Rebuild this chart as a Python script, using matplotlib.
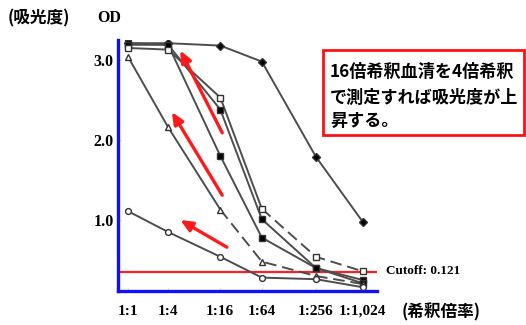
import matplotlib
matplotlib.use("Agg")
import matplotlib.pyplot as plt
from matplotlib.patches import Rectangle

plt.rcParams['font.family'] = ['Liberation Serif', 'Noto Sans CJK JP', 'DejaVu Sans']

# ---- data ----
dilutions = ["1:1", "1:4", "1:16", "1:64", "1:256", "1:1,024"]
x_pos = [0.0, 0.86, 1.98, 2.87, 4.03, 5.03]   # category positions as drawn

od_a = [3.21, 3.21, 3.18, 2.98, 1.79, 0.98]   # black diamonds
od_b = [3.21, 3.19, 2.38, 1.01, 0.40, 0.25]   # black squares
od_c = [3.19, 3.19, 1.80, 0.78, 0.40, 0.21]   # black squares
od_d = [3.15, 3.13, 2.53, 1.14, 0.54, 0.36]   # open squares
od_e = [3.04, 2.16, 1.13, 0.48, 0.30, 0.20]   # open triangles
od_f = [1.11, 0.85, 0.54, 0.28, 0.26, 0.16]   # open circles

y_ticks = [1.0, 2.0, 3.0]
cutoff_label = "Cutoff: 0.121"
cutoff_drawn = 0.35

W, H = 526, 325
fig = plt.figure(figsize=(W / 100, H / 100), dpi=100)
ax = fig.add_axes([118 / W, 1 - 291 / H, (377 - 118) / W, (291 - 40) / H])
ax.set_xlim(-0.215, 5.34)
ax.set_ylim(0.1125, 3.25)

lc = '#4d4d4d'
lw = 1.4

def series(y, marker, face, ms=4.2, dashed_from=None):
    if dashed_from is None:
        ax.plot(x_pos, y, color=lc, lw=lw, zorder=3)
    else:
        ax.plot(x_pos[:dashed_from + 1], y[:dashed_from + 1], color=lc, lw=lw, zorder=3)
        ax.plot(x_pos[dashed_from:], y[dashed_from:], color=lc, lw=lw, zorder=3,
                dashes=(6, 3))
    ax.plot(x_pos, y, ls='none', marker=marker, ms=ms, mfc=face, mec='#333333',
            mew=1.0, zorder=4)

series(od_a, 'D', 'black', ms=3.6)
series(od_b, 's', 'black')
series(od_c, 's', 'black')
series(od_d, 's', 'white', dashed_from=3)
series(od_e, '^', 'white', dashed_from=2)
series(od_f, 'o', 'white')

# cutoff line
ax.axhline(cutoff_drawn, color='#ff2020', lw=1.6, zorder=2)

# red arrows
for tail, head in [((2.02, 2.09), (1.12, 3.12)),
                   ((2.02, 1.31), (0.94, 2.35)),
                   ((2.12, 0.66), (1.12, 1.00))]:
    ax.annotate('', xy=head, xytext=tail,
                arrowprops=dict(arrowstyle='-|>,head_length=0.5,head_width=0.22',
                                color='#ff1a1a', lw=2.4,
                                mutation_scale=14, shrinkA=0, shrinkB=0),
                zorder=5)

# spines
for s in ['top', 'right']:
    ax.spines[s].set_visible(False)
for s in ['left', 'bottom']:
    ax.spines[s].set_color('#1010ff')
    ax.spines[s].set_linewidth(2.4)

ax.set_yticks(y_ticks)
ax.set_yticklabels([f"{v:.1f}" for v in y_ticks], fontsize=11.5, fontweight='bold')
ax.tick_params(axis='y', direction='in', length=2, color='#e8e840', pad=3)
ax.set_xticks(x_pos)
ax.set_xticklabels(dilutions, fontsize=11, fontweight='bold')
ax.tick_params(axis='x', direction='in', length=2, color='#e8e840', pad=10)

def fx(x):
    return x / W

def fy(y):
    return 1 - y / H

cjk = ['Noto Sans CJK JP', 'DejaVu Sans']
fig.text(fx(8), fy(18), "(吸光度)", family=cjk, fontsize=12, fontweight='bold',
         va='center', ha='left')
fig.text(fx(97), fy(18), "OD", fontsize=11.5, fontweight='bold', va='center', ha='left')
fig.text(fx(402), fy(312), "(希釈倍率)", family=cjk, fontsize=12, fontweight='bold',
         va='center', ha='left')
fig.text(fx(386), fy(271), cutoff_label, fontsize=9.5, fontweight='bold',
         va='center', ha='left')

# annotation box
fig.patches.append(Rectangle((fx(323), fy(135)), (524 - 323) / W, (135 - 50) / H,
                             transform=fig.transFigure, fill=False,
                             edgecolor='#ff1010', lw=2.0))
for txt, y in [("16倍希釈血清を4倍希釈", 72), ("で測定すれば吸光度が上", 98),
               ("昇する。", 121)]:
    fig.text(fx(330), fy(y), txt, family=cjk, fontsize=12.3, fontweight='bold',
             va='center', ha='left')

fig.savefig("out.png", dpi=100)
